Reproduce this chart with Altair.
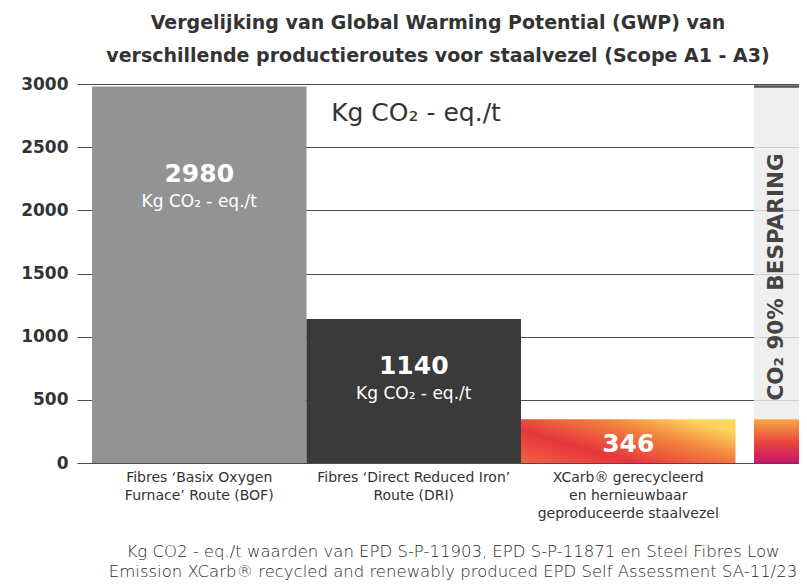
import altair as alt
import pandas as pd

# ---------------- data ----------------
categories = [
    "Fibres ‘Basix Oxygen|Furnace’ Route (BOF)",
    "Fibres ‘Direct Reduced Iron’|Route (DRI)",
    "XCarb® gerecycleerd|en hernieuwbaar|geproduceerde staalvezel",
]
values = [2980, 1140, 346]
value_labels = ["2980", "1140", "346"]
unit_label = "Kg CO₂ - eq./t"
y_ticks = [0, 500, 1000, 1500, 2000, 2500, 3000]
title_lines = [
    "Vergelijking van Global Warming Potential (GWP) van",
    "verschillende productieroutes voor staalvezel (Scope A1 - A3)",
]
footnote_lines = [
    "Kg CO2 - eq./t waarden van EPD S-P-11903, EPD S-P-11871 en Steel Fibres Low",
    "Emission XCarb® recycled and renewably produced EPD Self Assessment SA-11/23",
]
savings_text = "CO₂  90% BESPARING"
bar_colors = ["#939393", "#3a3a3a"]

df = pd.DataFrame({"cat": categories, "value": values, "label": value_labels})
one = pd.DataFrame({"k": [0]})

FONT = "DejaVu Sans"
W, H = 722, 379

xenc = alt.X(
    "cat:N",
    sort=categories,
    scale=alt.Scale(paddingInner=0, paddingOuter=0.183, align=0.191),
    axis=alt.Axis(
        title=None, labelAngle=0, labelExpr="split(datum.label, '|')",
        labelFontSize=14, labelFontWeight=400, labelColor="#333",
        labelLineHeight=18, labelPadding=7, labelLimit=400,
        ticks=False, domain=False, labelFont=FONT,
    ),
)
yenc = alt.Y(
    "value:Q",
    scale=alt.Scale(domain=[0, 3000], nice=False),
    axis=alt.Axis(
        title=None, values=y_ticks, ticks=False, domain=False, format="d",
        labelFontSize=17, labelFontWeight=700, labelColor="#333",
        labelPadding=9, gridColor="#4a4a4a", gridWidth=1, labelFont=FONT,
    ),
)

base = alt.Chart(df)

bars12 = base.transform_filter(
    alt.FieldOneOfPredicate(field="cat", oneOf=categories[:2])
).mark_bar().encode(
    x=xenc, y=yenc,
    color=alt.Color("cat:N", scale=alt.Scale(domain=categories[:2], range=bar_colors), legend=None),
)

grad_bar = alt.Gradient(
    gradient="linear",
    stops=[
        alt.GradientStop(color="#ee6440", offset=0),
        alt.GradientStop(color="#e6353d", offset=0.35),
        alt.GradientStop(color="#f2843f", offset=0.72),
        alt.GradientStop(color="#fdd55c", offset=1),
    ],
    x1=0, x2=1, y1=1, y2=0.3,
)
bar3 = base.transform_filter(
    alt.FieldEqualPredicate(field="cat", equal=categories[2])
).mark_bar(color=grad_bar).encode(x=xenc, y=yenc)


def cat_text(i, dy_val, dy_unit=None, size=25):
    f = base.transform_filter(alt.FieldEqualPredicate(field="cat", equal=categories[i]))
    t = f.mark_text(color="white", fontSize=size, fontWeight=700, font=FONT, dy=dy_val,
                    baseline="middle").encode(x=xenc, y=yenc, text="label:N")
    layers = [t]
    if dy_unit is not None:
        u = f.mark_text(color="white", fontSize=17, fontWeight=400, font=FONT, dy=dy_unit,
                        baseline="middle").encode(x=xenc, y=yenc, text=alt.value(unit_label))
        layers.append(u)
    return layers


texts = cat_text(0, 87, 115) + cat_text(1, 47, 75) + cat_text(2, 25, None, 25)

# savings column (BOF height, XCarb part coloured)
col_x, col_x2 = 677, 722
gray_col = base.transform_filter(
    alt.FieldEqualPredicate(field="cat", equal=categories[0])
).mark_rect(color="#ececec", opacity=0.82).encode(
    x=alt.value(col_x), x2=alt.value(col_x2), y=yenc, y2=alt.datum(0)
)
top_rule = base.transform_filter(
    alt.FieldEqualPredicate(field="cat", equal=categories[0])
).mark_rule(color="#555555", strokeWidth=2.5).encode(
    x=alt.value(col_x), x2=alt.value(col_x2), y=yenc
)
grad_col = alt.Gradient(
    gradient="linear",
    stops=[
        alt.GradientStop(color="#f6a843", offset=0),
        alt.GradientStop(color="#e9423e", offset=0.55),
        alt.GradientStop(color="#c3166d", offset=1),
    ],
    x1=0, x2=0, y1=0, y2=1,
)
xcarb_col = base.transform_filter(
    alt.FieldEqualPredicate(field="cat", equal=categories[2])
).mark_rect(color=grad_col).encode(
    x=alt.value(col_x), x2=alt.value(col_x2), y=yenc, y2=alt.datum(0)
)
savings = alt.Chart(one).mark_text(
    angle=270, fontSize=21.5, fontWeight=700, color="#444", font=FONT, baseline="middle", align="center"
).encode(x=alt.value(700), y=alt.value(193), text=alt.value(savings_text))

header = alt.Chart(one).mark_text(
    fontSize=25, fontWeight=400, color="#333", font=FONT, baseline="middle", align="center"
).encode(x=alt.value(339), y=alt.value(29), text=alt.value(unit_label))

footnote = alt.Chart(one).mark_text(
    text=footnote_lines, fontSize=16.5, fontWeight=300, color="#2a2a2a", font=FONT,
    baseline="middle", align="center", lineHeight=20,
).encode(x=alt.value(376), y=alt.value(468))

chart = alt.layer(
    bars12, bar3, gray_col, xcarb_col, top_rule, *texts, savings, header, footnote
).properties(
    width=W, height=H,
    title=alt.TitleParams(
        text=title_lines, fontSize=19, fontWeight=700, color="#333", font=FONT,
        anchor="middle", frame="group", lineHeight=33, offset=9,
    ),
    autosize=alt.AutoSizeParams(type="none"),
    padding={"left": 69, "top": 76, "right": 0, "bottom": 117},
).configure_view(stroke=None)

chart.save("out.html", embed_options={"renderer": "svg", "actions": False})
